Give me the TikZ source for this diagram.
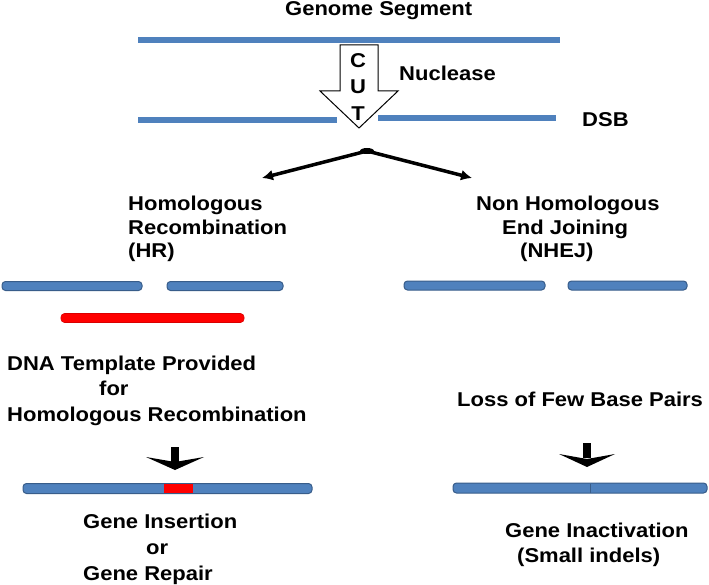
\documentclass[tikz,border=0pt]{standalone}
\usepackage{fontspec}
\newfontfamily\lab[FakeStretch=1.1]{Liberation Sans}
\usetikzlibrary{arrows.meta}
\definecolor{barblue}{RGB}{79,129,189}
\definecolor{baredge}{RGB}{56,93,138}
\definecolor{tplred}{RGB}{255,0,0}
\begin{document}
\begin{tikzpicture}[x=1pt,y=-1pt,
  txt/.style={inner sep=0pt,anchor=base west,font=\lab\bfseries\fontsize{20}{24}\selectfont},
  ctxt/.style={txt,anchor=base},
  dna/.style={barblue,line width=6pt},
  bar/.style={fill=barblue,draw=baredge,line width=1pt,rounded corners=3.5pt},
  redbar/.style={fill=tplred,draw=tplred!85!black,line width=0.6pt,rounded corners=3.5pt},
  split/.style={line width=3.5pt,-{Latex[length=11pt,width=11pt]}},
  smallhead/.style={fill=black}]
\useasboundingbox (0,0) rectangle (709,585);

% genome segment
\node[txt] (title) at (285,16) {Genome Segment};
\coordinate (g1) at (138,40); \coordinate (g2) at (560,40);
\draw[dna] (g1) -- (g2);

% DSB lines
\coordinate (d1) at (138,120); \coordinate (d2) at (337,120);
\coordinate (d3) at (378,118.5); \coordinate (d4) at (556,118.5);
\draw[dna] (d1) -- (d2);
\draw[dna] (d3) -- (d4);

% block arrow CUT
\draw[fill=white,line width=1pt,line join=miter]
  (340,45) -- (378,45) -- (378,91) -- (398,91) -- (359,128) -- (320,91) -- (340,91) -- cycle;
\node[ctxt] (c) at (358,68) {C};
\node[ctxt] (u) at (358,94) {U};
\node[ctxt] (t) at (358,121) {T};
\node[txt] (nuc) at (399,81) {Nuclease};
\node[txt] (dsb) at (582,127) {DSB};

% split arrow
\coordinate (apex) at (367,151);
\coordinate (la) at (262,178);
\coordinate (ra) at (472,178);
\draw[split] (apex) -- (la);
\draw[split] (apex) -- (ra);
\fill (apex) ellipse (7pt and 3pt);

% branch labels
\node[txt] (hr1) at (128,211) {Homologous};
\node[txt] (hr2) at (128,235) {Recombination};
\node[txt] (hr3) at (128,258) {(HR)};
\node[txt] (nh1) at (476,211) {Non Homologous};
\node[txt] (nh2) at (502,235) {End Joining};
\node[txt] (nh3) at (520,258) {(NHEJ)};

% HR broken bars + template
\draw[bar] (2,281.5) rectangle (142,290.5);
\draw[bar] (167,281.5) rectangle (283,290.5);
\draw[redbar] (61,313.5) rectangle (244,322.5);

% NHEJ broken bars
\draw[bar] (404,281) rectangle (545,290);
\draw[bar] (568,281) rectangle (687,290);

% HR texts
\node[txt] (dt1) at (7,370) {DNA Template Provided};
\node[txt] (dt2) at (99,395) {for};
\node[txt] (dt3) at (7,421) {Homologous Recombination};

% NHEJ text
\node[txt] (loss) at (457,406) {Loss of Few Base Pairs};

% small arrows
\coordinate (ha1) at (175,447); \coordinate (ha2) at (175,462);
\draw[line width=8pt] (ha1) -- (ha2);
\fill[smallhead] (146,457) -- (175,470) -- (204,457) -- (175,462) -- cycle;
\coordinate (na1) at (587,443); \coordinate (na2) at (587,458);
\draw[line width=8pt] (na1) -- (na2);
\fill[smallhead] (559,454) -- (587,467) -- (615,454) -- (587,459) -- cycle;

% repaired HR bar
\draw[bar] (23,483.5) rectangle (312,493.5);
\fill[tplred] (164,484) rectangle (193,493);

% repaired NHEJ bar
\draw[bar] (453,483) rectangle (707,493);
\draw[baredge,line width=1pt] (590,483.5) -- (590,492.5);

% results
\node[txt] (gi1) at (83,528) {Gene Insertion};
\node[txt] (gi2) at (146,554) {or};
\node[txt] (gi3) at (83,580) {Gene Repair};
\node[txt] (ga1) at (505,537) {Gene Inactivation};
\node[txt] (ga2) at (517,562) {(Small indels)};
\end{tikzpicture}
\end{document}
